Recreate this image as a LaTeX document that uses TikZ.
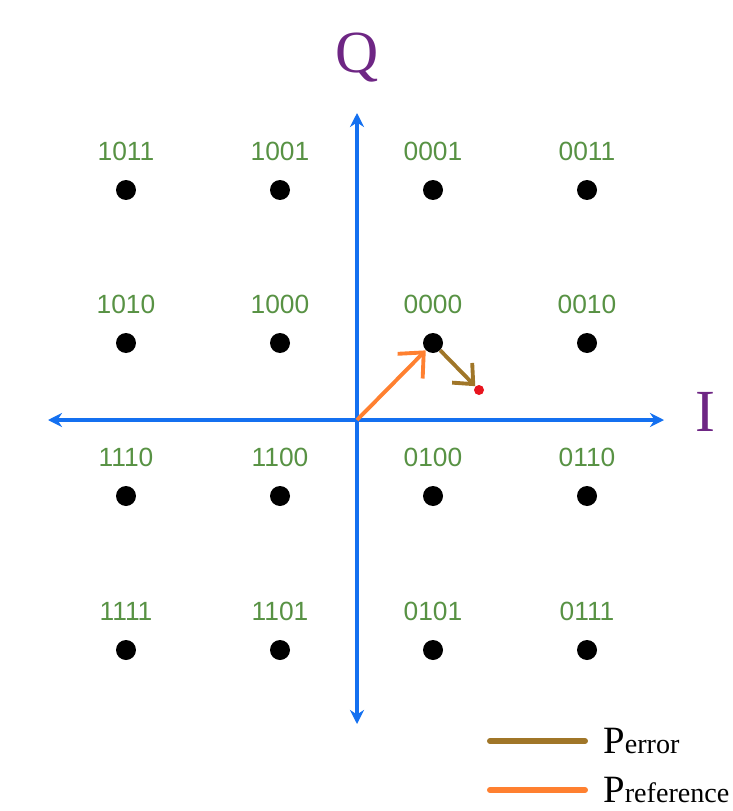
\documentclass[tikz,border=0pt]{standalone}
\usepackage{fontspec}
\setmainfont{Liberation Serif}
\newfontfamily\labelfont{Liberation Sans}
\usetikzlibrary{arrows.meta}

\definecolor{axisblue}{RGB}{20,112,240}
\definecolor{reforange}{RGB}{255,128,48}
\definecolor{errbrown}{RGB}{160,118,40}
\definecolor{bitgreen}{RGB}{88,146,68}
\definecolor{axispurple}{RGB}{110,38,132}
\definecolor{rxred}{RGB}{232,20,30}

\tikzset{
	pt/.style={circle, fill=black, inner sep=0pt, minimum size=0.4cm},
	bits/.style={font=\labelfont\fontsize{15}{15}\selectfont, text=bitgreen},
	axis/.style={line width=2.2pt, color=axisblue, {Stealth[length=8pt,width=8pt]}-{Stealth[length=8pt,width=8pt]}},
	axislabel/.style={font=\fontsize{34}{34}\selectfont, text=axispurple},
	legendtext/.style={anchor=west, inner sep=0pt}
}

\begin{document}
\begin{tikzpicture}[x=0.02cm, y=-0.02cm]
			%%%%% START %%%%%
			\useasboundingbox (0,0) rectangle (733,811);
			
			% axes
			\coordinate (Qtop) at (357,113);
			\coordinate (Qbot) at (357,724);
			\coordinate (Ileft) at (48,420);
			\coordinate (Iright) at (664,420);
			\coordinate (O) at (357,420);
			\draw[axis] (Qbot) -- (Qtop);
			\draw[axis] (Ileft) -- (Iright);
			\node[axislabel] (Q) at (357,58) {Q};
			\node[axislabel] (I) at (705,412) {I};
			
			% constellation
			\foreach \row/\y in {0/190, 1/343, 2/496, 3/650}{
				\foreach \col/\x in {0/126, 1/280, 2/433, 3/587}{
					\node[pt] (p\row\col) at (\x,\y) {};
				}
			}
			\foreach \b/\p in {1011/p00, 1001/p01, 0001/p02, 0011/p03,
			                   1010/p10, 1000/p11, 0000/p12, 0010/p13,
			                   1110/p20, 1100/p21, 0100/p22, 0110/p23,
			                   1111/p30, 1101/p31, 0101/p32, 0111/p33}{
				\node[bits] (b\b) at ([yshift=39*0.02cm]\p) {\b};
			}
			
			% received point and vectors
			\node[circle, fill=rxred, inner sep=0pt, minimum size=0.2cm] (rx) at (479,390) {};
			\draw[line width=2.2pt, color=reforange, -{Straight Barb[length=11pt,width=20pt]}] (O) -- (p12);
			\draw[line width=2.2pt, color=errbrown, -{Straight Barb[length=9pt,width=16pt]}] (p12) -- (rx);
			
			% legend
			\coordinate (e1) at (490,741);
			\coordinate (e2) at (585,741);
			\coordinate (r1) at (490,790);
			\coordinate (r2) at (585,790);
			\draw[line width=3.4pt, color=errbrown, line cap=round] (e1) -- (e2);
			\draw[line width=3.4pt, color=reforange, line cap=round] (r1) -- (r2);
			\node[legendtext] (perr) at (603,741) {\fontsize{22}{22}\selectfont P\fontsize{16}{16}\selectfont error};
			\node[legendtext] (pref) at (603,790) {\fontsize{22}{22}\selectfont P\fontsize{16}{16}\selectfont reference};
			%%%%% END %%%%%
\end{tikzpicture}
\end{document}
